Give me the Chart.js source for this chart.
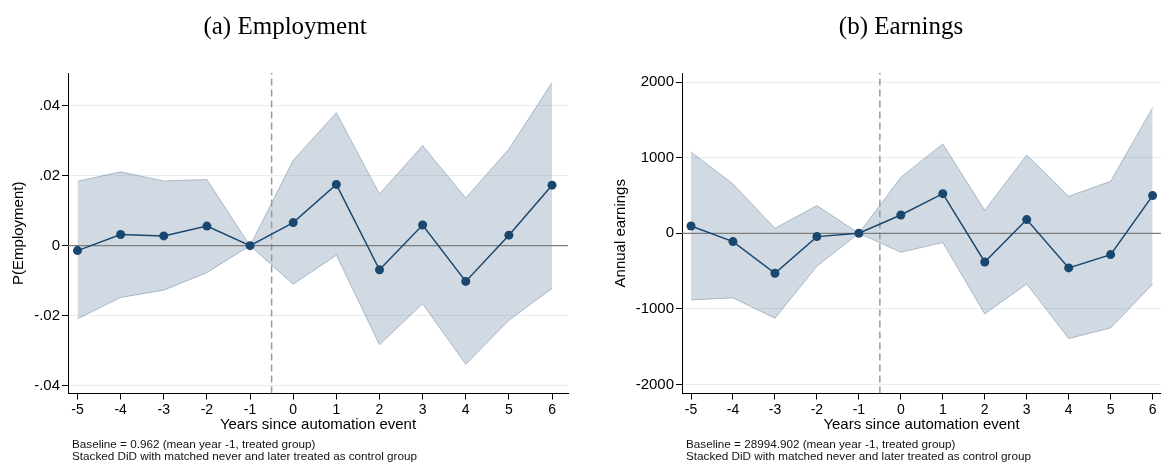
<!DOCTYPE html>
<html>
<head>
<meta charset="utf-8">
<script src="https://cdn.jsdelivr.net/npm/chart.js@4/dist/chart.umd.min.js"></script>
<style>
    html, body { margin: 0; padding: 0; background: #fff; }
    .panel { position: absolute; top: 0; height: 464px; }
    #p1 { left: 0; width: 580px; }
    #p2 { left: 580px; width: 581px; }
</style>
</head>
<body>
<div class="panel" id="p1"><canvas id="empChart" width="580" height="464"></canvas></div>
<div class="panel" id="p2"><canvas id="earnChart" width="581" height="464"></canvas></div>
<script>
// event time
const years = [-5, -4, -3, -2, -1, 0, 1, 2, 3, 4, 5, 6];

// (a) employment
const empCoef  = [-0.0014, 0.0032, 0.0028, 0.0056, 0, 0.0066, 0.0175, -0.0069, 0.0059, -0.0102, 0.0030, 0.0173];
const empUpper = [0.0184, 0.0211, 0.0185, 0.0189, 0, 0.0244, 0.0380, 0.0148, 0.0286, 0.0136, 0.0276, 0.0466];
const empLower = [-0.0209, -0.0148, -0.0127, -0.0077, 0, -0.0110, -0.0027, -0.0283, -0.0166, -0.0339, -0.0213, -0.0122];
const empTicks = [-0.04, -0.02, 0, 0.02, 0.04];
const empTickLabels = ['-.04', '-.02', '0', '.02', '.04'];

// (b) earnings
const earnCoef  = [97, -110, -529, -44, 0, 242, 524, -379, 181, -458, -282, 498];
const earnUpper = [1075, 652, 66, 366, 0, 740, 1181, 304, 1035, 489, 687, 1661];
const earnLower = [-881, -855, -1123, -436, 0, -251, -123, -1066, -670, -1392, -1251, -674];
const earnTicks = [-2000, -1000, 0, 1000, 2000];
const earnTickLabels = ['-2000', '-1000', '0', '1000', '2000'];

const NAVY = '#1a476f';
const SANS = '"Liberation Sans", Arial, sans-serif';
const SERIF = '"Liberation Serif", "Times New Roman", serif';

const pts = (ys) => years.map((x, i) => ({ x, y: ys[i] }));

// panel title + footnotes
const panelText = {
    id: 'panelText',
    afterDraw(chart, args, opts) {
        const ctx = chart.ctx;
        ctx.save();
        ctx.fillStyle = '#000';
        ctx.font = '25px ' + SERIF;
        ctx.textAlign = 'center';
        ctx.textBaseline = 'alphabetic';
        ctx.fillText(opts.title, opts.titleX, 34);
        ctx.font = '11.7px ' + SANS;
        ctx.textAlign = 'left';
        ctx.fillStyle = '#111';
        opts.notes.forEach((t, i) => ctx.fillText(t, opts.notesX, 448 + i * 12));
        ctx.restore();
    }
};

function makePanel(canvasId, cfg) {
    const ctx = document.getElementById(canvasId).getContext('2d');
    return new Chart(ctx, {
        type: 'line',
        data: {
            datasets: [
                {
                    data: pts(cfg.coef),
                    borderColor: NAVY,
                    backgroundColor: NAVY,
                    borderWidth: 1.5,
                    pointRadius: 4.5,
                    pointBackgroundColor: NAVY,
                    pointBorderWidth: 0,
                    tension: 0,
                    fill: false,
                    clip: 6,
                },
                {
                    data: [{ x: cfg.xMin, y: 0 }, { x: cfg.xMax, y: 0 }],
                    borderColor: '#7c7c7c',
                    borderWidth: 1.2,
                    pointRadius: 0,
                    fill: false,
                },
                {
                    data: [{ x: -0.5, y: cfg.yMin }, { x: -0.5, y: cfg.yMax }],
                    borderColor: '#9a9a9a',
                    borderWidth: 1.5,
                    borderDash: [7, 4],
                    pointRadius: 0,
                    fill: false,
                },
                {
                    data: pts(cfg.upper),
                    borderColor: 'rgba(26,71,111,0.3)',
                    backgroundColor: 'rgba(26,71,111,0.2)',
                    borderWidth: 1,
                    pointRadius: 0,
                    tension: 0,
                    fill: '+1',
                },
                {
                    data: pts(cfg.lower),
                    borderColor: 'rgba(26,71,111,0.3)',
                    borderWidth: 1,
                    pointRadius: 0,
                    tension: 0,
                    fill: false,
                },
            ]
        },
        options: {
            responsive: false,
            animation: false,
            events: [],
            layout: {
                autoPadding: false,
                padding: { top: 73, bottom: 30.5, left: cfg.padLeft, right: cfg.padRight },
            },
            plugins: {
                legend: { display: false },
                tooltip: { enabled: false },
                panelText: { title: cfg.title, titleX: cfg.titleX, notes: cfg.notes, notesX: cfg.notesX },
            },
            scales: {
                x: {
                    type: 'linear',
                    min: cfg.xMin,
                    max: cfg.xMax,
                    afterBuildTicks: (s) => { s.ticks = years.map(v => ({ value: v })); },
                    afterFit: (s) => { s.height = 40; s.paddingLeft = 0; s.paddingRight = 0; },
                    grid: { drawOnChartArea: false, drawTicks: true, tickLength: 6, tickColor: '#000', tickWidth: 1 },
                    border: { display: true, color: '#000', width: 1 },
                    ticks: { color: '#000', padding: 2, maxRotation: 0, font: { size: 14, family: SANS } },
                    title: { display: true, text: 'Years since automation event', color: '#000', padding: 0, font: { size: 15, family: SANS } },
                },
                y: {
                    min: cfg.yMin,
                    max: cfg.yMax,
                    afterBuildTicks: (s) => { s.ticks = cfg.ticks.map(v => ({ value: v })); },
                    afterFit: (s) => { s.width = cfg.yWidth; },
                    grid: { color: '#e6eef0', lineWidth: 1, drawTicks: true, tickLength: 6, tickColor: '#000' },
                    border: { display: true, color: '#000', width: 1 },
                    ticks: {
                        color: '#000', padding: 2, font: { size: 15, family: SANS },
                        callback: (v) => cfg.tickLabels[cfg.ticks.indexOf(v)],
                    },
                    title: { display: true, text: cfg.yTitle, color: '#000', padding: { top: 2, bottom: 0 }, font: { size: 15, family: SANS } },
                },
            },
        },
        plugins: [panelText],
    });
}

makePanel('empChart', {
    coef: empCoef, upper: empUpper, lower: empLower,
    ticks: empTicks, tickLabels: empTickLabels,
    xMin: -5.22, xMax: 6.37, yMin: -0.04223, yMax: 0.04934,
    yTitle: 'P(Employment)', yWidth: 60, padLeft: 8, padRight: 12,
    title: '(a) Employment', titleX: 285,
    notes: ['Baseline = 0.962 (mean year -1, treated group)', 'Stacked DiD with matched never and later treated as control group'],
    notesX: 72,
});

makePanel('earnChart', {
    coef: earnCoef, upper: earnUpper, lower: earnLower,
    ticks: earnTicks, tickLabels: earnTickLabels,
    xMin: -5.215, xMax: 6.2, yMin: -2118, yMax: 2119,
    yTitle: 'Annual earnings', yWidth: 72, padLeft: 30, padRight: 0,
    title: '(b) Earnings', titleX: 321,
    notes: ['Baseline = 28994.902 (mean year -1, treated group)', 'Stacked DiD with matched never and later treated as control group'],
    notesX: 106,
});
</script>
</body>
</html>
